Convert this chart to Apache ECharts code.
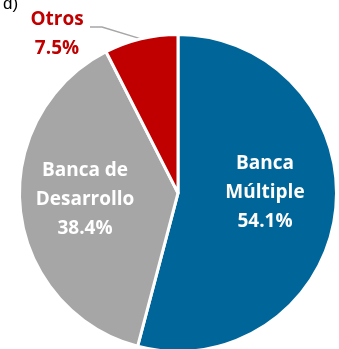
<!DOCTYPE html>
<html>
<head>
<meta charset="utf-8">
<script src="https://cdn.jsdelivr.net/npm/echarts@6/dist/echarts.min.js"></script>
<style>
html,body{margin:0;padding:0;background:#fff;}
#chart{width:339px;height:349px;}
</style>
</head>
<body>
<div id="chart"></div>
<script>
const categories = ['Banca Múltiple', 'Banca de Desarrollo', 'Otros'];
const labelNames = ['Banca\nMúltiple', 'Banca de\nDesarrollo', 'Otros'];
const values = [54.1, 38.4, 7.5];
const titleText = 'd)';

const colors = ['#006699', '#A6A6A6', '#C00000'];
const labelColors = ['#ffffff', '#ffffff', '#C00000'];

const chart = echarts.init(document.getElementById('chart'), null, {renderer: 'canvas'});

const data = categories.map((c, i) => {
  const item = {
    name: c,
    value: values[i],
    itemStyle: {color: colors[i]},
    label: {color: labelColors[i]}
  };
  if (i === 2) {
    item.label.position = 'outside';
    item.labelLine = {show: true, length: 10, length2: 10, lineStyle: {color: '#A6A6A6', width: 1.5}};
  } else {
    item.label.position = 'inside';
    item.labelLine = {show: false};
  }
  return item;
});

const labelPos = [
  {x: 265, y: 193},
  {x: 85, y: 200},
  {x: 57, y: 34}
];

chart.setOption({
  animation: false,
  title: {
    text: titleText,
    left: -2,
    top: -9,
    textStyle: {fontFamily: 'Liberation Sans', fontSize: 17, fontWeight: 'normal', color: '#000'}
  },
  series: [{
    type: 'pie',
    center: [178, 193],
    radius: ['0%', 158.5],
    startAngle: 90,
    clockwise: true,
    avoidLabelOverlap: false,
    itemStyle: {borderColor: '#ffffff', borderWidth: 3},
    label: {
      show: true,
      fontFamily: 'Open Sans',
      fontWeight: 'bold',
      fontSize: 19,
      lineHeight: 29,
      align: 'center',
      formatter: (p) => labelNames[p.dataIndex] + '\n' + values[p.dataIndex].toFixed(1) + '%'
    },
    emphasis: {disabled: true},
    labelLayout: function (params) {
      const pos = labelPos[params.dataIndex];
      const out = {x: pos.x, y: pos.y, align: 'center', verticalAlign: 'middle'};
      if (params.dataIndex === 2 && params.labelLinePoints) {
        const edge = params.labelLinePoints[0];
        out.labelLinePoints = [edge, [pos.x + 45, pos.y - 7], [pos.x + 33, pos.y - 7]];
      }
      return out;
    },
    data: data
  }]
});
</script>
</body>
</html>
